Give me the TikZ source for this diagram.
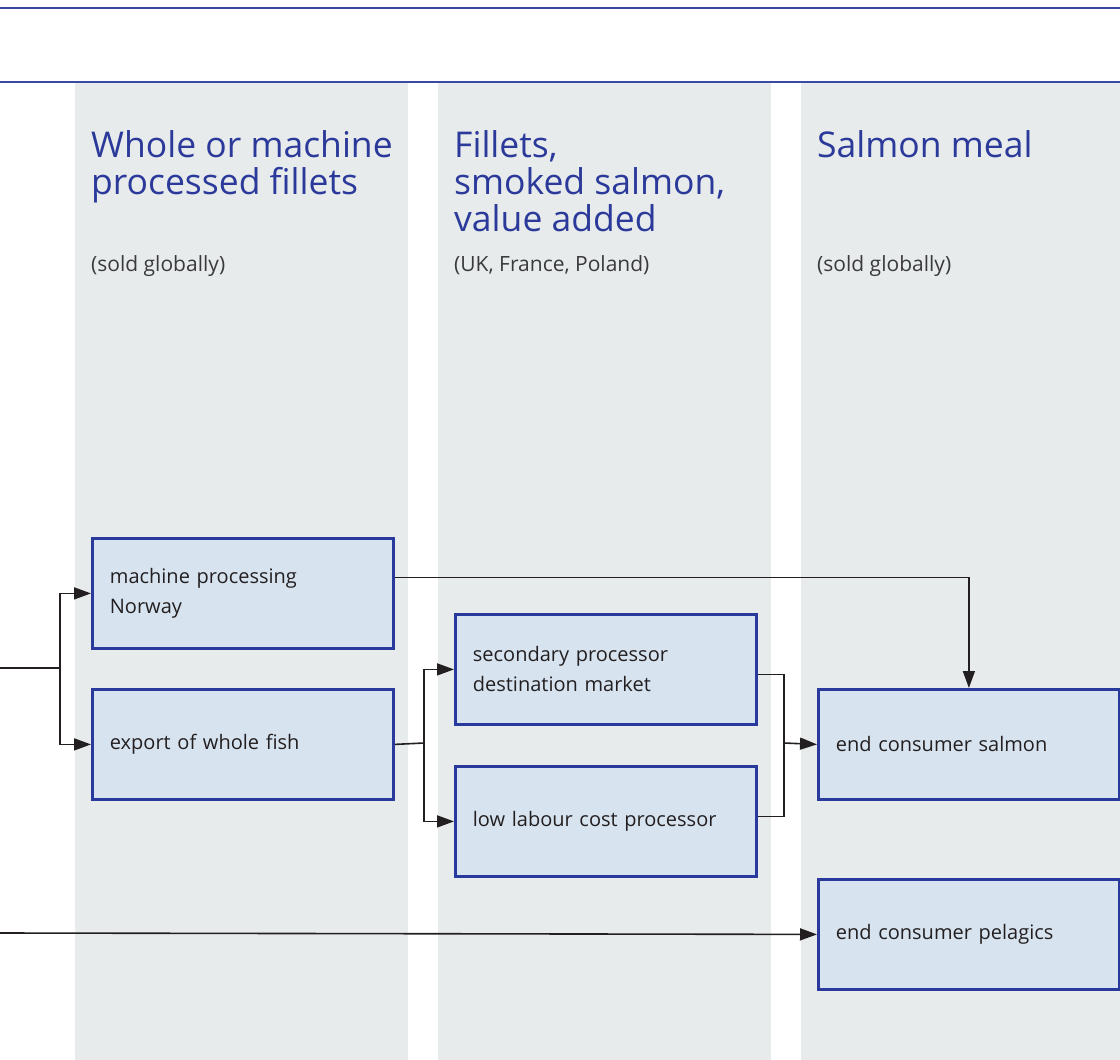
\documentclass[tikz,border=0pt]{standalone}
\usepackage{fontspec}
\setmainfont{Open Sans}
\usetikzlibrary{arrows.meta}
\definecolor{bandgris}{HTML}{E7EBEC}
\definecolor{titrebleu}{HTML}{2B3A9A}
\definecolor{filetbleu}{HTML}{3A4AA4}
\definecolor{cadrebleu}{HTML}{2A3A9C}
\definecolor{fondbleu}{HTML}{D7E4F0}
\definecolor{encre}{HTML}{231F20}
\definecolor{gristexte}{HTML}{3A3A3A}
\begin{document}
\begin{tikzpicture}[x=1pt, y=-1pt,
	boite/.style={draw=cadrebleu, line width=2.8pt, fill=fondbleu, text=encre,
		font=\fontsize{20}{30}\selectfont, text width=266pt, inner xsep=17.5pt,
		inner ysep=0pt, minimum height=110pt, align=left, anchor=north west},
	titre/.style={text=titrebleu, font=\fontsize{35.5}{37}\selectfont,
		align=left, anchor=base west, inner sep=0pt},
	soustitre/.style={text=gristexte, font=\fontsize{21}{25}\selectfont,
		anchor=base west, inner sep=0pt},
	lien/.style={draw=encre, line width=1.6pt},
	fleche/.style={lien, -{Triangle[length=17pt, width=12pt]}}]
				\useasboundingbox (0,0) rectangle (1120,1060);

				% Bandes grises
				\foreach \xa/\xb in {75/408, 438/771, 801/1120}
				\fill[bandgris] (\xa,83) rectangle (\xb,1060);

				% Filets du haut
				\draw[filetbleu, line width=2pt] (0,8) -- (1120,8);
				\draw[filetbleu, line width=2pt] (0,82) -- (1120,82);

				% Titres des colonnes (ancre sur la derniere ligne)
				\node[titre] (t1) at (91,194) {Whole or machine\\processed fillets};
				\node[titre] (t2) at (454,231) {Fillets,\\smoked salmon,\\value added};
				\node[titre] (t3) at (817,157) {Salmon meal};
				\node[soustitre] (s1) at (91,271) {(sold globally)};
				\node[soustitre] (s2) at (454,271) {(UK, France, Poland)};
				\node[soustitre] (s3) at (817,271) {(sold globally)};

				% Boites
				\node[boite] (machine) at (91,537) {machine processing\\Norway};
				\node[boite] (export) at (91,688) {export of whole fish};
				\node[boite] (secondaire) at (454,613) {secondary processor\\destination market};
				\node[boite] (lowcost) at (454,765) {low labour cost processor};
				\node[boite] (salmon) at (817,688) {end consumer salmon};
				\node[boite] (pelagic) at (817,878) {end consumer pelagics};

				% Points de jonction
				\coordinate (entree) at (0,668);
				\coordinate (fourche) at (60,668);
				\coordinate (fourche2) at (424,743);
				\coordinate (jonction) at (784,743);
				\coordinate (entreeP) at (0,933);

				% Liens
				\draw[lien] (entree) -- (fourche);
				\draw[fleche] (fourche) |- (machine.west);
				\draw[fleche] (fourche) |- (export.west);
				\draw[fleche] ([yshift=16pt]machine.east) -| (salmon.north);
				\draw[lien] (export.east) -- (fourche2);
				\draw[fleche] (fourche2) |- (secondaire.west);
				\draw[fleche] (fourche2) |- (lowcost.west);
				\draw[lien] ([yshift=-5pt]secondaire.east) -| (jonction);
				\draw[lien] ([yshift=5pt]lowcost.east) -| (jonction);
				\draw[fleche] (jonction) -- (salmon.west);
				\draw[fleche] (entreeP) -- (pelagic.west);
			\end{tikzpicture}
\end{document}
